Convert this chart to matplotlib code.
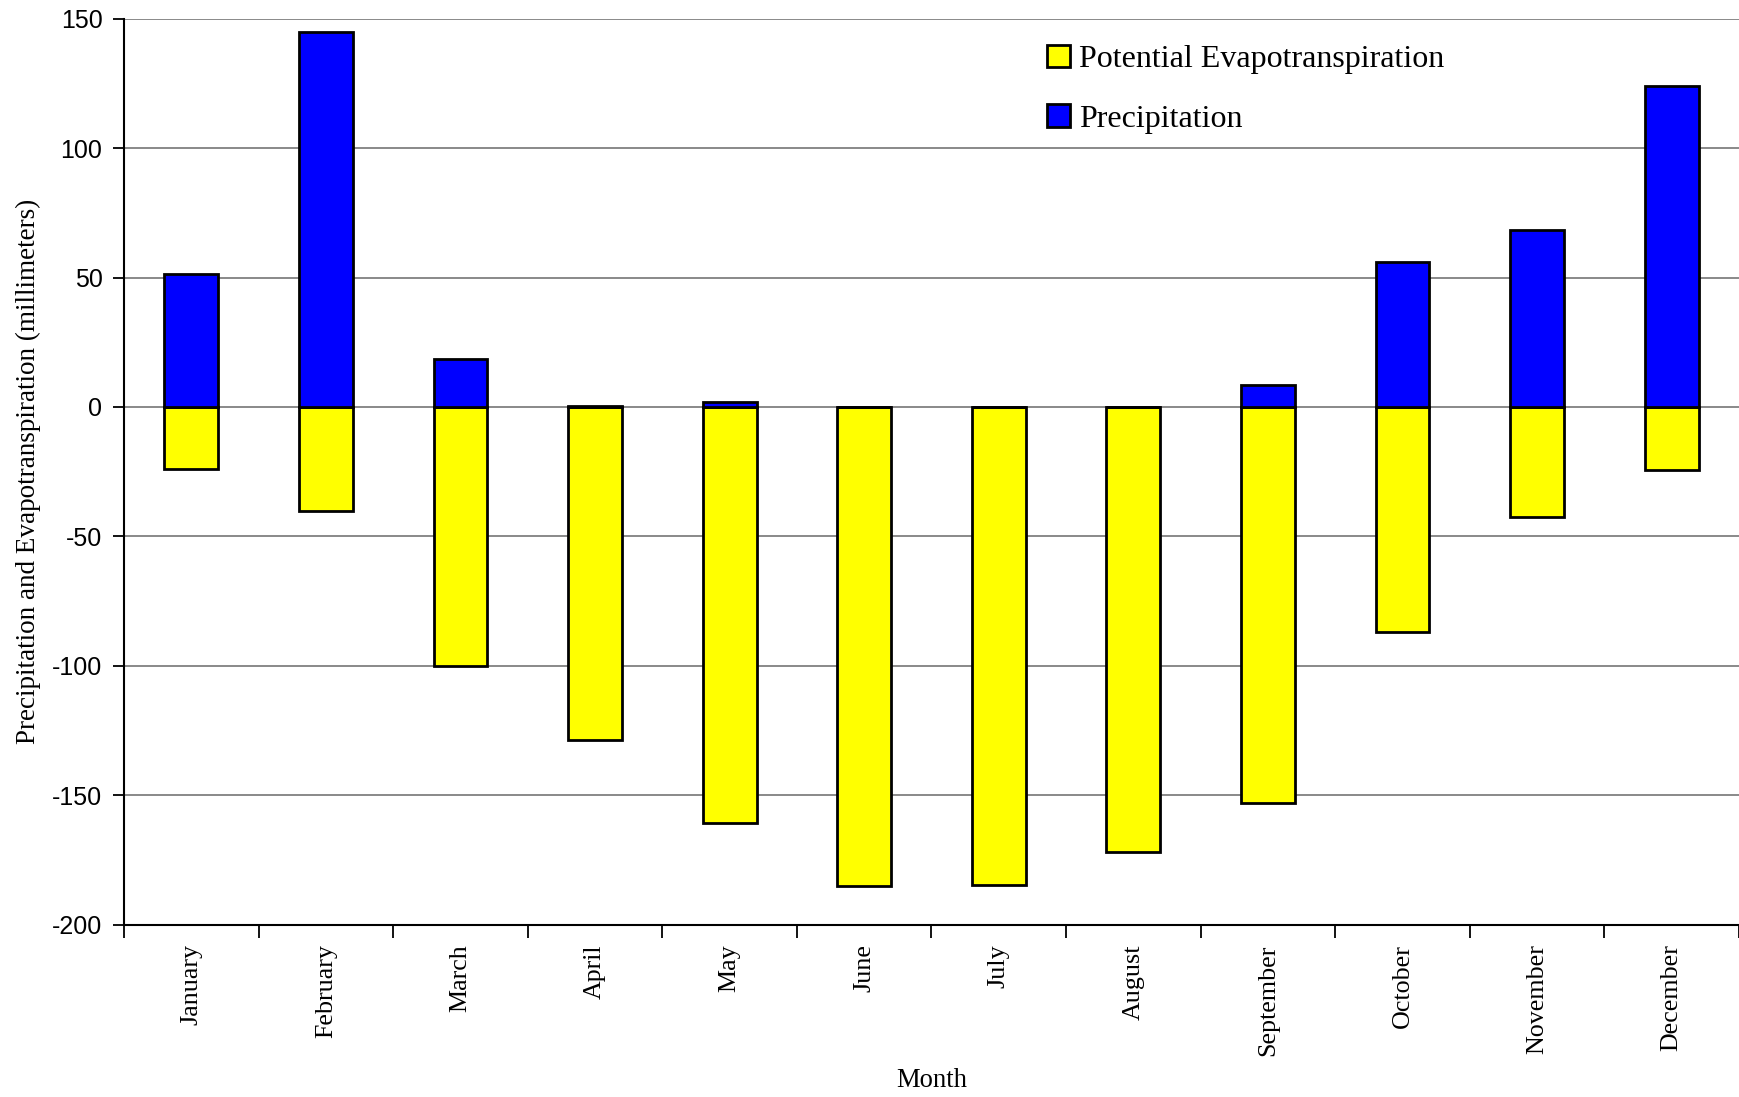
import numpy as np
import matplotlib
matplotlib.use('Agg')
import matplotlib.pyplot as plt

months = ['January', 'February', 'March', 'April', 'May', 'June',
          'July', 'August', 'September', 'October', 'November', 'December']
precip = [51.5, 145, 18.5, 0.5, 2, 0, 0, 0, 8.5, 56, 68.5, 124]
pet = [24, 40, 100, 128.5, 160.5, 185, 184.5, 172, 153, 87, 42.5, 24.5]

YELLOW = '#FFFF00'
BLUE = '#0000FF'
SERIF = 'Liberation Serif'
SANS = 'Liberation Sans'

plt.rcParams['axes.unicode_minus'] = False

fig = plt.figure(figsize=(17.39, 10.97), dpi=100)
ax = fig.add_axes([0.0713, 0.157, 0.9287, 0.826])

x = np.arange(len(months))
w = 0.4
ax.bar(x, -np.array(pet), w, color=YELLOW, edgecolor='black', linewidth=2,
       label='Potential Evapotranspiration', zorder=3)
ax.bar(x, precip, w, color=BLUE, edgecolor='black', linewidth=2,
       label='Precipitation', zorder=3)

ax.set_xlim(-0.5, len(months) - 0.5)
ax.set_ylim(-200, 150)
ax.set_yticks(np.arange(-200, 151, 50))
ax.yaxis.grid(True, color='#808080', linewidth=1.3, zorder=0)
ax.set_axisbelow(True)

ax.set_xticks(x)
ax.set_xticklabels(months, rotation=90, fontfamily=SERIF, fontsize=18.7)
ax.set_xticks(np.arange(-0.5, len(months), 1), minor=True)
ax.tick_params(axis='x', which='major', length=0, pad=14)
ax.tick_params(axis='x', which='minor', length=9, width=1.3, direction='out')
ax.tick_params(axis='y', length=8, width=1.3, direction='out', labelsize=18, pad=7.5)
for lab in ax.get_yticklabels():
    lab.set_fontfamily(SANS)

for s in ['top', 'right']:
    ax.spines[s].set_visible(False)
ax.spines['left'].set_linewidth(1.5)
ax.spines['bottom'].set_linewidth(1.5)

ax.set_ylabel('Precipitation and Evapotranspiration (millimeters)',
              fontfamily=SERIF, fontsize=19.5, labelpad=8)
fig.text(0.5357, 0.0146, 'Month', fontfamily=SERIF, fontsize=19.2,
         ha='center', va='center')

leg = ax.legend(loc='upper left', bbox_to_anchor=(0.554, 1.003), frameon=False,
                prop={'family': SERIF, 'size': 23}, handlelength=0.7,
                handleheight=0.7, handletextpad=0.3, labelspacing=0.95)

fig.savefig('out.png', dpi=100, facecolor='white')
